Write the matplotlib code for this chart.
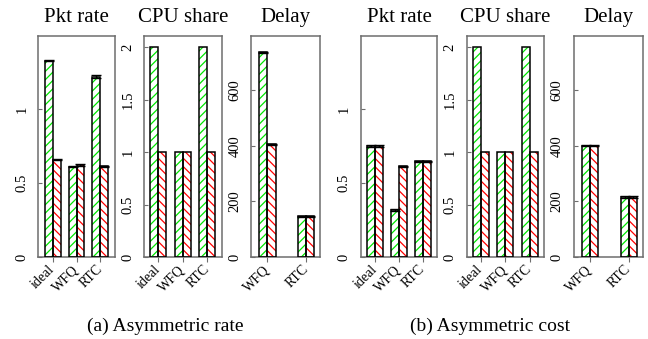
import matplotlib

matplotlib.use("Agg")

import matplotlib.pyplot as plt

plt.rcParams["font.family"] = ["Liberation Serif", "DejaVu Serif"]
plt.rcParams["hatch.linewidth"] = 0.9

categories = ["ideal", "WFQ", "RTC"]
delay_categories = ["WFQ", "RTC"]

# (a) asymmetric rate
rate_a_green = [1.326, 0.610, 1.218]
rate_a_red = [0.657, 0.622, 0.612]
rate_a_green_err = [0.004, 0.004, 0.009]
rate_a_red_err = [0.003, 0.004, 0.005]
cpu_a_green = [2.0, 1.0, 2.0]
cpu_a_red = [1.0, 1.0, 1.0]
delay_a_green = [736, 147]
delay_a_red = [406, 147]
delay_a_green_err = [3, 2]
delay_a_red_err = [2, 2]

# (b) asymmetric cost
rate_b_green = [0.750, 0.318, 0.646]
rate_b_red = [0.750, 0.614, 0.646]
rate_b_green_err = [0.004, 0.004, 0.004]
rate_b_red_err = [0.004, 0.003, 0.004]
cpu_b_green = [2.0, 1.0, 2.0]
cpu_b_red = [1.0, 1.0, 1.0]
delay_b_green = [400, 216]
delay_b_red = [400, 216]
delay_b_green_err = [2, 2]
delay_b_red_err = [2, 2]

rate_ticks = [0, 0.5, 1]
rate_ticklabels = ["0", "0.5", "1"]
cpu_ticks = [0, 0.5, 1, 1.5, 2]
cpu_ticklabels = ["0", "0.5", "1", "1.5", "2"]
delay_ticks = [0, 200, 400, 600]
delay_ticklabels = ["0", "200", "400", "600"]

GREEN = "#00e600"
RED = "#ff0000"
AXIS_GRAY = "#6e6e6e"

W, H = 648, 339


def _axes(fig, left, width):
    top, bottom = 36, 257
    return fig.add_axes([left / W, (H - bottom) / H, width / W, (bottom - top) / H])


def _panel(ax, title, labels, lefts, green, red, green_err, red_err, ylim, xlim, ticks, ticklabels):
    greens = list(lefts)
    reds = [x + 1 for x in lefts]
    for xs, vals, color, hatch in [(greens, green, GREEN, "////"), (reds, red, RED, "\\\\\\\\")]:
        ax.bar(xs, vals, width=1, align="edge", color="white", edgecolor=color, hatch=hatch, linewidth=0, zorder=2)
        ax.bar(xs, vals, width=1, align="edge", fill=False, edgecolor="black", linewidth=1.1, zorder=3)
    if green_err is not None:
        ax.errorbar([x + 0.5 for x in greens], green, yerr=green_err, fmt="none", ecolor="black",
                    elinewidth=1, capsize=3.4, capthick=1.0, zorder=4)
        ax.errorbar([x + 0.5 for x in reds], red, yerr=red_err, fmt="none", ecolor="black",
                    elinewidth=1, capsize=3.4, capthick=1.0, zorder=4)
    ax.set_xlim(*xlim)
    ax.set_ylim(*ylim)
    ax.set_xticks([x + 1 for x in lefts])
    ax.set_xticklabels(labels, rotation=45, ha="right", va="center", rotation_mode="anchor", fontsize=10)
    ax.set_yticks(ticks)
    ax.set_yticklabels(ticklabels, rotation=90, va="center", fontsize=10.5)
    ax.tick_params(axis="y", direction="in", length=3, width=0.8, color=AXIS_GRAY, pad=7)
    ax.tick_params(axis="x", direction="out", length=3.5, width=0.8, color=AXIS_GRAY, pad=4)
    for spine in ax.spines.values():
        spine.set_color(AXIS_GRAY)
        spine.set_linewidth(1.1)
    ax.set_title(title, fontsize=15, pad=10)


fig = plt.figure(figsize=(W / 100, H / 100), dpi=100)
fig.patch.set_facecolor("white")

offset = 322.5
groups = [1, 4, 7]
delay_groups = [1, 5.73]
for shift, rg, rr, rge, rre, cg, cr, dg, dr, dge, dre in [
    (0, rate_a_green, rate_a_red, rate_a_green_err, rate_a_red_err, cpu_a_green, cpu_a_red,
     delay_a_green, delay_a_red, delay_a_green_err, delay_a_red_err),
    (offset, rate_b_green, rate_b_red, rate_b_green_err, rate_b_red_err, cpu_b_green, cpu_b_red,
     delay_b_green, delay_b_red, delay_b_green_err, delay_b_red_err),
]:
    ax1 = _axes(fig, 38 + shift, 77)
    _panel(ax1, "Pkt rate", categories, groups, rg, rr, rge, rre, (0, 1.493), (0.12, 9.87),
           rate_ticks, rate_ticklabels)
    ax2 = _axes(fig, 144 + shift, 77.5)
    _panel(ax2, "CPU share", categories, groups, cg, cr, None, None, (0, 2.105), (0.25, 9.75),
           cpu_ticks, cpu_ticklabels)
    ax3 = _axes(fig, 251 + shift, 69)
    _panel(ax3, "Delay", delay_categories, delay_groups, dg, dr, dge, dre, (0, 795), (0, 8.4),
           delay_ticks, delay_ticklabels)

fig.text(87 / W, 1 - 331 / H, "(a) Asymmetric rate", ha="left", va="baseline", fontsize=14)
fig.text((87 + offset) / W, 1 - 331 / H, "(b) Asymmetric cost", ha="left", va="baseline", fontsize=14)

fig.savefig("out.png", dpi=100)
